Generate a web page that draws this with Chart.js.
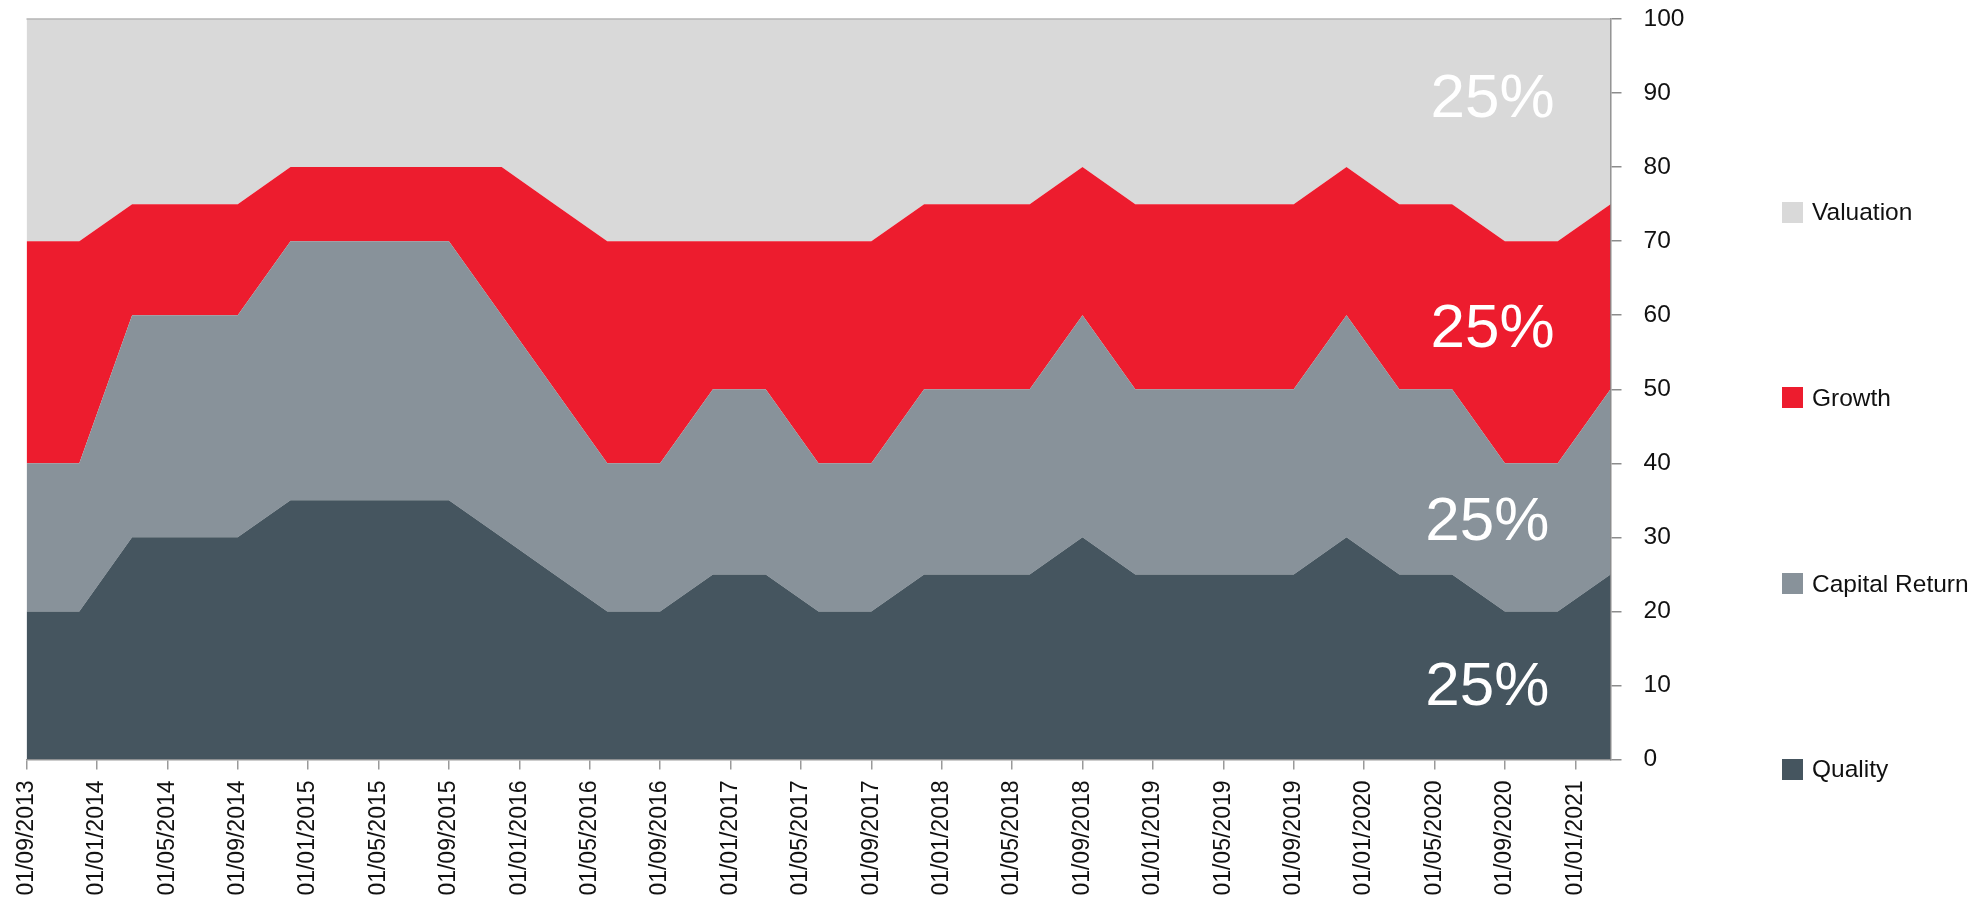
<!DOCTYPE html>
<html>
<head>
<meta charset="utf-8">
<script src="https://cdn.jsdelivr.net/npm/chart.js@4.4.1/dist/chart.umd.min.js"></script>
<style>
    html, body { margin: 0; padding: 0; background: #fff; overflow: hidden; }
    #wrap { position: relative; width: 1984px; height: 902px; overflow: hidden; }
    #chart { display: block; }
    .legend-item {
        position: absolute;
        left: 1782px;
        height: 22px;
        display: flex;
        align-items: center;
        font-family: "Liberation Sans", Arial, sans-serif;
        font-size: 24.5px;
        color: #111;
        white-space: nowrap;
    }
    .legend-item span.box { width: 21px; height: 21px; margin-right: 9px; }
</style>
</head>
<body>
<div id="wrap">
    <canvas id="chart" width="1984" height="902"></canvas>
</div>
<script>
// 季度数据点
const dates = ['2013-09', '2013-12', '2014-03', '2014-06', '2014-09', '2014-12', '2015-03', '2015-06',
    '2015-09', '2015-12', '2016-03', '2016-06', '2016-09', '2016-12', '2017-03', '2017-06',
    '2017-09', '2017-12', '2018-03', '2018-06', '2018-09', '2018-12', '2019-03', '2019-06',
    '2019-09', '2019-12', '2020-03', '2020-06', '2020-09', '2020-12', '2021-03'];

const quality = [20, 20, 30, 30, 30, 35, 35, 35, 35, 30, 25, 20, 20, 25, 25, 20,
    20, 25, 25, 25, 30, 25, 25, 25, 25, 30, 25, 25, 20, 20, 25];
const capitalReturn = [20, 20, 30, 30, 30, 35, 35, 35, 35, 30, 25, 20, 20, 25, 25, 20,
    20, 25, 25, 25, 30, 25, 25, 25, 25, 30, 25, 25, 20, 20, 25];
const growth = [30, 30, 15, 15, 15, 10, 10, 10, 10, 20, 25, 30, 30, 20, 20, 30,
    30, 25, 25, 25, 20, 25, 25, 25, 25, 20, 25, 25, 30, 30, 25];
const valuation = [30, 30, 25, 25, 25, 20, 20, 20, 20, 20, 25, 30, 30, 30, 30, 30,
    30, 25, 25, 25, 20, 25, 25, 25, 25, 20, 25, 25, 30, 30, 25];

const seriesNames = ['Quality', 'Capital Return', 'Growth', 'Valuation'];
const seriesColors = ['#45555f', '#88929a', '#ed1c2e', '#d9d9d9'];

// x轴刻度标签
const tickLabels = ['01/09/2013', '01/01/2014', '01/05/2014', '01/09/2014', '01/01/2015', '01/05/2015',
    '01/09/2015', '01/01/2016', '01/05/2016', '01/09/2016', '01/01/2017', '01/05/2017',
    '01/09/2017', '01/01/2018', '01/05/2018', '01/09/2018', '01/01/2019', '01/05/2019',
    '01/09/2019', '01/01/2020', '01/05/2020', '01/09/2020', '01/01/2021'];
const yTicks = [0, 10, 20, 30, 40, 50, 60, 70, 80, 90, 100];

// 月份序号（从 2013年9月 起）
function monthIndex(year, month) {
    return (year - 2013) * 12 + (month - 9);
}
function dateToX(d) {
    const p = d.split('-');
    return monthIndex(+p[0], +p[1]);
}
function labelToX(s) {
    const p = s.split('/');
    return monthIndex(+p[2], +p[1]);
}

const allSeries = [quality, capitalReturn, growth, valuation];
const fontFamily = '"Liberation Sans", Arial, sans-serif';

// 右侧 25% 标注位置（按坐标值）
const annoAnchors = [
    { x: 83.0, y: 7.4 },
    { x: 83.0, y: 29.6 },
    { x: 83.3, y: 55.7 },
    { x: 83.3, y: 86.8 }
];

const annotationPlugin = {
    id: 'annotations',
    afterDatasetsDraw(chart) {
        const ctx = chart.ctx;
        const xs = chart.scales.x;
        const ys = chart.scales.y;
        ctx.save();
        ctx.fillStyle = '#ffffff';
        ctx.font = '62px ' + fontFamily;
        ctx.textAlign = 'center';
        ctx.textBaseline = 'alphabetic';
        allSeries.forEach((s, i) => {
            const a = annoAnchors[i];
            ctx.fillText(s[s.length - 1] + '%', xs.getPixelForValue(a.x), ys.getPixelForValue(a.y));
        });
        // 顶部边线
        const area = chart.chartArea;
        ctx.strokeStyle = '#b4b4b4';
        ctx.lineWidth = 1.5;
        ctx.beginPath();
        ctx.moveTo(area.left, area.top);
        ctx.lineTo(area.right, area.top);
        ctx.stroke();
        ctx.restore();
    }
};

document.addEventListener('DOMContentLoaded', function() {
    const ctx = document.getElementById('chart').getContext('2d');

    const datasets = allSeries.map((s, i) => ({
        label: seriesNames[i],
        data: s.map((v, j) => ({ x: dateToX(dates[j]), y: v })),
        backgroundColor: seriesColors[i],
        borderColor: seriesColors[i],
        borderWidth: 0,
        pointRadius: 0,
        tension: 0,
        fill: i === 0 ? 'origin' : '-1'
    }));

    new Chart(ctx, {
        type: 'line',
        data: { datasets: datasets },
        options: {
            responsive: false,
            animation: false,
            layout: {
                padding: { left: 26.5, top: 19, right: 293.5, bottom: 0.5 }
            },
            plugins: {
                legend: { display: false },
                tooltip: { enabled: false }
            },
            scales: {
                x: {
                    type: 'linear',
                    min: dateToX(dates[0]),
                    max: dateToX(dates[dates.length - 1]),
                    afterBuildTicks: function(axis) {
                        axis.ticks = tickLabels.map(s => ({ value: labelToX(s) }));
                    },
                    afterFit: function(axis) {
                        axis.height = 142;
                        axis.paddingLeft = 0;
                        axis.paddingRight = 0;
                    },
                    grid: {
                        drawOnChartArea: false,
                        drawTicks: true,
                        tickLength: 10,
                        color: '#9a9a9a',
                        lineWidth: 1.5
                    },
                    border: { color: '#9a9a9a', width: 1.5 },
                    ticks: {
                        autoSkip: false,
                        minRotation: 90,
                        maxRotation: 90,
                        padding: 11,
                        color: '#111',
                        font: { family: fontFamily, size: 23 },
                        callback: function(value, index) {
                            return tickLabels[index];
                        }
                    }
                },
                y: {
                    position: 'right',
                    stacked: true,
                    min: 0,
                    max: 100,
                    afterBuildTicks: function(axis) {
                        axis.ticks = yTicks.map(v => ({ value: v }));
                    },
                    afterFit: function(axis) {
                        axis.width = 80;
                        axis.paddingTop = 0;
                        axis.paddingBottom = 0;
                    },
                    grid: {
                        drawOnChartArea: false,
                        drawTicks: true,
                        tickLength: 11,
                        color: '#8c8c8c',
                        lineWidth: 1.5
                    },
                    border: { color: '#8c8c8c', width: 1.5 },
                    ticks: {
                        padding: 22,
                        color: '#111',
                        font: { family: fontFamily, size: 24.5 }
                    }
                }
            }
        },
        plugins: [annotationPlugin]
    });

    // 图例（右侧，自上而下）
    const legendY = [212, 397.5, 583.5, 769];
    const wrap = document.getElementById('wrap');
    for (let i = seriesNames.length - 1, k = 0; i >= 0; i--, k++) {
        const item = document.createElement('div');
        item.className = 'legend-item';
        item.style.top = (legendY[k] - 11) + 'px';
        item.innerHTML = '<span class="box" style="background:' + seriesColors[i] + '"></span>' + seriesNames[i];
        wrap.appendChild(item);
    }
});
</script>
</body>
</html>
